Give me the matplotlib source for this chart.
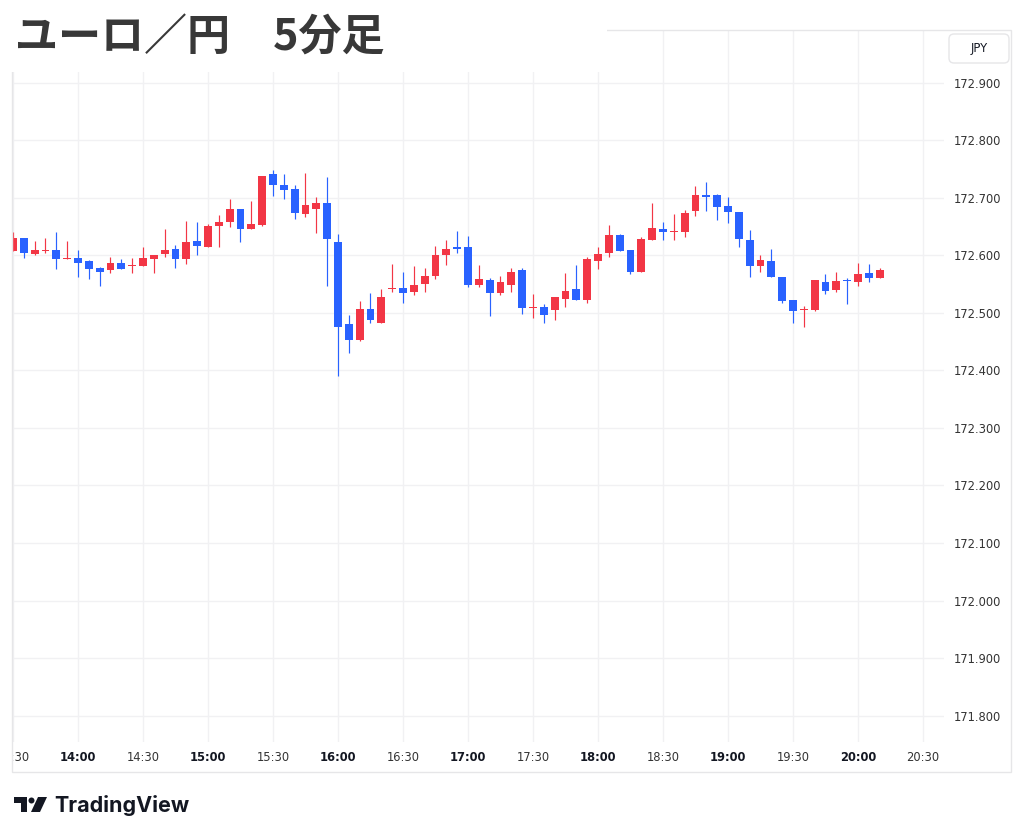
import numpy as np
import matplotlib
matplotlib.use("Agg")
import matplotlib.pyplot as plt
from matplotlib.patches import Rectangle, FancyBboxPatch, Circle, Polygon
from matplotlib.transforms import Bbox, TransformedBbox

# EUR/JPY 5-minute candles, 13:30 -> 20:10
opens = [172.607, 172.630, 172.603, 172.608, 172.609, 172.593, 172.595, 172.591, 172.579, 172.574,
         172.587, 172.581, 172.582, 172.594, 172.602, 172.611, 172.594, 172.625, 172.615, 172.651,
         172.658, 172.681, 172.646, 172.653, 172.741, 172.723, 172.715, 172.672, 172.681, 172.692,
         172.624, 172.481, 172.453, 172.507, 172.483, 172.542, 172.543, 172.536, 172.551, 172.564,
         172.600, 172.614, 172.615, 172.549, 172.557, 172.534, 172.548, 172.575, 172.508, 172.510,
         172.505, 172.524, 172.542, 172.522, 172.591, 172.604, 172.635, 172.609, 172.571, 172.627,
         172.646, 172.641, 172.641, 172.677, 172.705, 172.705, 172.686, 172.676, 172.626, 172.582,
         172.590, 172.563, 172.523, 172.505, 172.506, 172.554, 172.540, 172.557, 172.553, 172.569,
         172.560]
highs = [172.641, 172.630, 172.625, 172.630, 172.641, 172.625, 172.610, 172.592, 172.580, 172.598,
         172.593, 172.595, 172.614, 172.601, 172.646, 172.618, 172.660, 172.658, 172.655, 172.670,
         172.698, 172.681, 172.695, 172.738, 172.749, 172.741, 172.723, 172.743, 172.701, 172.737,
         172.637, 172.497, 172.521, 172.535, 172.541, 172.585, 172.572, 172.582, 172.578, 172.617,
         172.627, 172.643, 172.633, 172.583, 172.560, 172.564, 172.579, 172.579, 172.533, 172.515,
         172.527, 172.569, 172.583, 172.598, 172.614, 172.653, 172.637, 172.609, 172.632, 172.691,
         172.659, 172.672, 172.679, 172.721, 172.727, 172.707, 172.701, 172.676, 172.644, 172.601,
         172.612, 172.563, 172.523, 172.512, 172.557, 172.567, 172.572, 172.560, 172.587, 172.585,
         172.578]
lows = [172.607, 172.595, 172.601, 172.605, 172.577, 172.593, 172.563, 172.559, 172.547, 172.569,
        172.577, 172.569, 172.582, 172.569, 172.597, 172.579, 172.585, 172.601, 172.615, 172.614,
        172.649, 172.623, 172.646, 172.652, 172.704, 172.698, 172.663, 172.666, 172.639, 172.547,
        172.390, 172.430, 172.451, 172.482, 172.483, 172.536, 172.517, 172.531, 172.537, 172.559,
        172.583, 172.604, 172.546, 172.546, 172.495, 172.531, 172.536, 172.498, 172.491, 172.482,
        172.488, 172.511, 172.522, 172.518, 172.577, 172.598, 172.608, 172.567, 172.571, 172.627,
        172.627, 172.627, 172.632, 172.668, 172.678, 172.662, 172.656, 172.615, 172.563, 172.571,
        172.562, 172.518, 172.482, 172.476, 172.504, 172.533, 172.536, 172.516, 172.547, 172.553,
        172.560]
closes = [172.630, 172.604, 172.609, 172.610, 172.593, 172.595, 172.586, 172.577, 172.571, 172.587,
          172.577, 172.582, 172.596, 172.601, 172.609, 172.593, 172.623, 172.617, 172.652, 172.658,
          172.681, 172.646, 172.655, 172.738, 172.722, 172.714, 172.673, 172.687, 172.692, 172.628,
          172.476, 172.453, 172.507, 172.488, 172.527, 172.544, 172.535, 172.549, 172.564, 172.601,
          172.611, 172.612, 172.549, 172.559, 172.534, 172.553, 172.571, 172.508, 172.510, 172.497,
          172.527, 172.538, 172.522, 172.593, 172.603, 172.635, 172.608, 172.571, 172.629, 172.647,
          172.640, 172.643, 172.673, 172.705, 172.702, 172.684, 172.676, 172.628, 172.582, 172.592,
          172.562, 172.521, 172.504, 172.506, 172.557, 172.538, 172.556, 172.555, 172.567, 172.560,
          172.574]

time_labels = ["13:30", "14:00", "14:30", "15:00", "15:30", "16:00", "16:30", "17:00",
               "17:30", "18:00", "18:30", "19:00", "19:30", "20:00", "20:30"]
price_ticks = [171.8, 171.9, 172.0, 172.1, 172.2, 172.3, 172.4, 172.5, 172.6, 172.7, 172.8, 172.9]

UP = "#F23645"
DOWN = "#2962FF"
GRID = "#f1f1f3"
BORDER = "#e6e6e8"

W, H = 1024, 839
fig = plt.figure(figsize=(W / 100, H / 100), dpi=100)


def fx(px):
    return px / W


def fy(py):
    return 1 - py / H


def pin(px, py):
    # pixel (top-left origin) -> inches for dpi_scale_trans
    return (px / 100, (H - py) / 100)


ax = fig.add_axes([fx(12), fy(742), fx(944) - fx(12), fy(30) - fy(742)])

# -----------------------------
# candles
# -----------------------------
x = np.arange(len(opens))
o = np.array(opens)
c = np.array(closes)
colors = np.where(c >= o, UP, DOWN)

ax.vlines(x, lows, highs, colors=colors, lw=0.85, zorder=2)
body_low = np.minimum(o, c)
body_h = np.maximum(np.abs(c - o), 0.0018)
ax.bar(x, body_h, bottom=body_low, width=0.72, color=colors, lw=0, zorder=3)

# -----------------------------
# axes, ticks, grid
# -----------------------------
tick_pos = np.arange(len(time_labels)) * 6
ax.set_xticks(tick_pos, time_labels)
ax.set_yticks(price_ticks, [f"{p:.3f}" for p in price_ticks])
ax.yaxis.tick_right()
ax.tick_params(length=0, labelsize=8.3, colors="#333333")
ax.tick_params(axis="x", pad=6.8)
ax.tick_params(axis="y", pad=7.2)
ax.set_xlim(-0.092, 85.94)
ax.set_ylim(171.754, 172.992)
ax.grid(color=GRID, lw=1)
ax.set_axisbelow(True)
for s in ax.spines.values():
    s.set_visible(False)

# first time label is cut by the chart's left edge, as in the TradingView export
clip = TransformedBbox(Bbox([[fx(11), 0], [fx(944), 1]]), fig.transFigure)
for lbl, t in zip(ax.get_xticklabels(), time_labels):
    if t.endswith(":00"):
        lbl.set_fontweight("bold")
        lbl.set_color("#131722")
    lbl.set_clip_box(clip)
    lbl.set_clip_on(True)

# outer frame of the chart
fig.add_artist(Rectangle(pin(12, 772), 999 / 100, 742 / 100, transform=fig.dpi_scale_trans,
                         fill=False, ec=BORDER, lw=1, zorder=4))

# currency box
fig.add_artist(FancyBboxPatch(pin(949, 63), 60 / 100, 29 / 100, transform=fig.dpi_scale_trans,
                              boxstyle="round,pad=0,rounding_size=0.05",
                              fc="white", ec=BORDER, lw=1, zorder=4))
fig.text(fx(979), fy(48.5), "JPY", ha="center", va="center", fontsize=8.3, color="#131722", zorder=5)

# title over a white patch
fig.add_artist(Rectangle((0, fy(72)), fx(607), 72 / H, transform=fig.transFigure,
                         fc="white", ec="none", zorder=5))
fig.text(fx(15), fy(38), "ユーロ／円　5分足", ha="left", va="center", fontsize=31,
         fontweight="bold", family=["Noto Sans CJK JP", "DejaVu Sans"], color="#383838", zorder=6)

# -----------------------------
# TradingView logo
# -----------------------------
logo = "#131722"
for art in [
    Rectangle(pin(14, 803), 13 / 100, 6 / 100),
    Rectangle(pin(21, 812), 6 / 100, 15 / 100),
    Circle(pin(31.5, 800.5), 3 / 100),
    Polygon([pin(38, 797), pin(47, 797), pin(40, 812), pin(31, 812)]),
]:
    art.set_transform(fig.dpi_scale_trans)
    art.set_facecolor(logo)
    art.set_edgecolor("none")
    fig.add_artist(art)
fig.text(fx(54), fy(805), "TradingView", ha="left", va="center", fontsize=15.5,
         fontweight="bold", family=["Inter", "DejaVu Sans"], color=logo)

fig.savefig("out.png", dpi=100, facecolor="white")
